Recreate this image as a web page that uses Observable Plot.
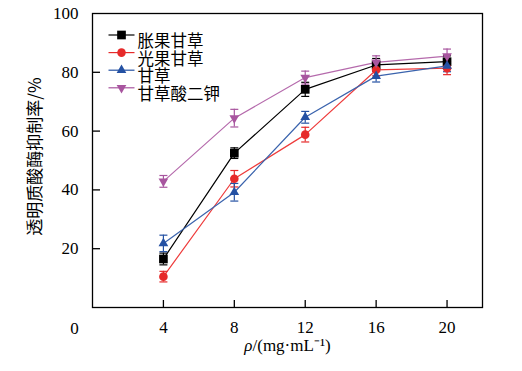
<!DOCTYPE html>
<html>
<head>
<meta charset="utf-8">
<script src="https://cdn.jsdelivr.net/npm/d3@7"></script>
<script src="https://cdn.jsdelivr.net/npm/@observablehq/plot@0.6"></script>
<style>
  html, body { margin: 0; padding: 0; background: #fff; }
  #chart { width: 522px; height: 371px; }
</style>
</head>
<body>
<div id="chart"></div>
<script>
// ---- data ----
const xValues = [4, 8, 12, 16, 20];
const seriesNames = ["胀果甘草", "光果甘草", "甘草", "甘草酸二钾"];
const zhangguoValues = [16.5, 52.5, 74.2, 82.5, 83.6];
const zhangguoErrors = [2.0, 1.8, 2.4, 2.2, 2.0];
const guangguoValues = [10.5, 43.8, 58.8, 80.8, 81.4];
const guangguoErrors = [1.8, 2.8, 2.5, 2.0, 2.2];
const gancaoValues = [21.8, 39.2, 64.7, 78.7, 82.2];
const gancaoErrors = [2.8, 3.0, 2.0, 2.0, 2.0];
const dipotassiumValues = [42.9, 64.4, 78.2, 83.4, 85.5];
const dipotassiumErrors = [2.0, 3.0, 2.2, 2.2, 2.4];
const xTicks = [4, 8, 12, 16, 20];
const yTicks = [20, 40, 60, 80, 100];
const originLabel = [0];
const xTitle = "ρ/(mg·mL⁻¹)";
const yTitle = "透明质酸酶抑制率/%";

// ---- styling ----
const colors = ["#000000", "#e62a2a", "#2451a3", "#a8559f"];
const lineColors = ["#000000", "#ee3b3b", "#3a63ad", "#b56aac"];

const hline = w => ({draw(ctx) { ctx.moveTo(-w / 2, 0); ctx.lineTo(w / 2, 0); }});
const triDown = {draw(ctx, size) {
  const y = Math.sqrt(size / (3 * Math.sqrt(3)));
  ctx.moveTo(0, 2 * y); ctx.lineTo(-Math.sqrt(3) * y, -y); ctx.lineTo(Math.sqrt(3) * y, -y); ctx.closePath();
}};
const symbols = ["square", "circle", "triangle", triDown];
const radii = [4.9, 4.3, 3.6, 3.6];

const valueArrays = [zhangguoValues, guangguoValues, gancaoValues, dipotassiumValues];
const errorArrays = [zhangguoErrors, guangguoErrors, gancaoErrors, dipotassiumErrors];

const series = seriesNames.map((name, i) =>
  xValues.map((x, j) => ({name, i, x, y: valueArrays[i][j], lo: valueArrays[i][j] - errorArrays[i][j], hi: valueArrays[i][j] + errorArrays[i][j]}))
);

const W = 522, H = 371, mL = 92, mR = 40, mT = 13, mB = 64;
const plotW = W - mL - mR, plotH = H - mT - mB;

const marks = [];
// lines
series.forEach((s, i) => marks.push(Plot.line(s, {x: "x", y: "y", stroke: lineColors[i], strokeWidth: 1.2})));
// error bars
series.forEach((s, i) => {
  marks.push(Plot.ruleX(s, {x: "x", y1: "lo", y2: "hi", stroke: colors[i], strokeWidth: 1.2}));
  marks.push(Plot.dot(s, {x: "x", y: "lo", symbol: hline(8), r: 1, fill: "none", stroke: colors[i], strokeWidth: 1.2}));
  marks.push(Plot.dot(s, {x: "x", y: "hi", symbol: hline(8), r: 1, fill: "none", stroke: colors[i], strokeWidth: 1.2}));
});
// markers
series.forEach((s, i) => marks.push(Plot.dot(s, {x: "x", y: "y", symbol: symbols[i], r: radii[i], fill: colors[i], stroke: "none"})));

// legend
seriesNames.forEach((name, i) => {
  const dy = 21.5 + 17.6 * i;
  marks.push(Plot.dot([name], {frameAnchor: "top-left", dx: 29, dy, symbol: hline(26), r: 1, fill: "none", stroke: colors[i], strokeWidth: 1.2}));
  marks.push(Plot.dot([name], {frameAnchor: "top-left", dx: 29, dy, symbol: symbols[i], r: radii[i], fill: colors[i], stroke: "none"}));
  marks.push(Plot.text([name], {frameAnchor: "top-left", dx: 45, dy: dy + 0.5, text: d => d, textAnchor: "start", fill: "black", fontSize: 16.5, fontFamily: "'Noto Sans CJK SC'"}));
});

// frame, ticks, axes
marks.push(Plot.frame({stroke: "black", strokeWidth: 1.3}));
marks.push(Plot.ruleX(xTicks, {x: d => d, insetTop: plotH - 7, stroke: "black", strokeWidth: 1.3}));
marks.push(Plot.ruleY(yTicks.filter(d => d < 100), {y: d => d, insetRight: plotW - 8, stroke: "black", strokeWidth: 1.3}));
marks.push(Plot.axisX(xTicks, {tickSize: 0, tickPadding: 13, label: null, fontSize: 17}));
marks.push(Plot.axisY(yTicks, {tickSize: 0, tickPadding: 14, label: null, fontSize: 17}));
marks.push(Plot.text(originLabel, {x: d => d, y: d => d, text: d => String(d), dx: -18, dy: 21, fontSize: 17, fill: "black"}));
marks.push(Plot.text([xTitle], {frameAnchor: "bottom", dy: 43, text: d => d, fontSize: 17, fill: "black", className: "xtitle"}));
marks.push(Plot.text([yTitle], {frameAnchor: "left", textAnchor: "middle", dx: -57, dy: -4, rotate: -90, text: d => d, fontSize: 17, fill: "black", fontFamily: "'Noto Sans CJK SC'"}));

const chart = Plot.plot({
  width: W, height: H,
  marginLeft: mL, marginRight: mR, marginTop: mT, marginBottom: mB,
  x: {domain: [0, 22]},
  y: {domain: [0, 100]},
  style: {fontFamily: "'Liberation Serif', 'Noto Sans CJK SC', serif", fontSize: "17px", color: "black", background: "white"},
  marks
});
document.getElementById("chart").appendChild(chart);

// italic rho in x title
const t = d3.select(chart).select(".xtitle text");
if (!t.empty()) {
  const txt = t.text();
  t.text(null);
  t.append("tspan").attr("font-style", "italic").text(txt.slice(0, 1));
  t.append("tspan").text(txt.slice(1));
}
</script>
</body>
</html>
